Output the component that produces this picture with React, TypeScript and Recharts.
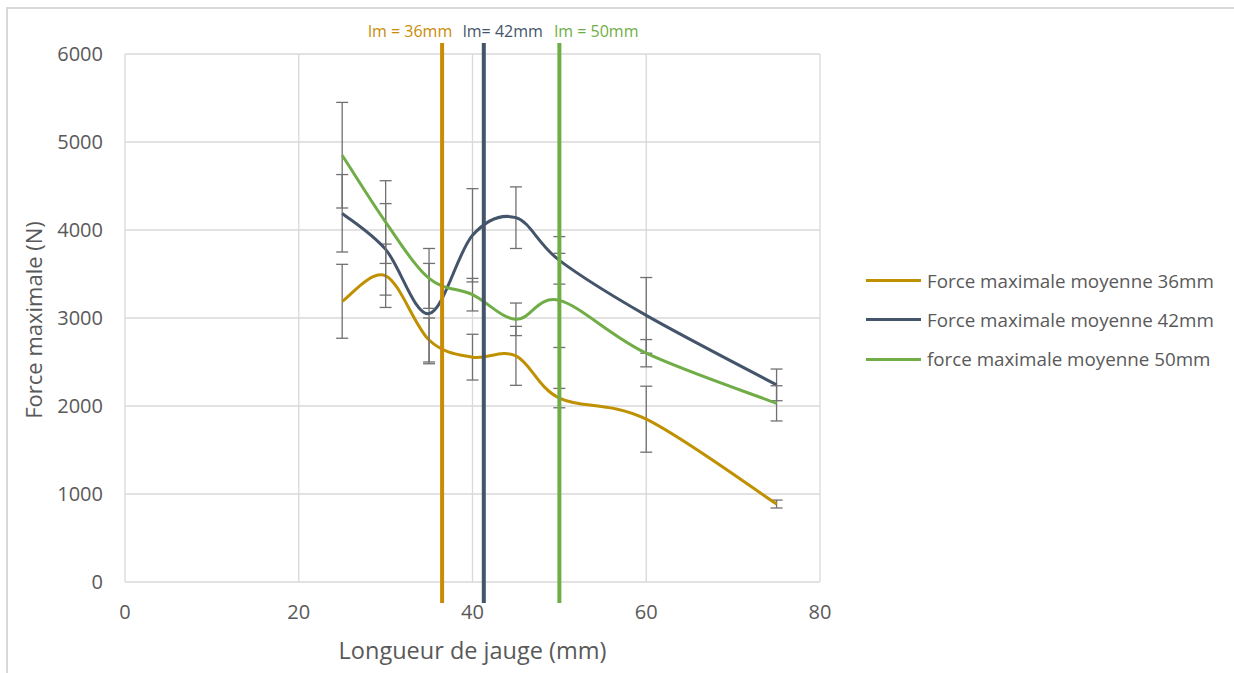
import React from 'react';
import {
  ComposedChart,
  Line,
  XAxis,
  YAxis,
  CartesianGrid,
  ErrorBar,
  ReferenceLine,
  Legend,
} from 'recharts';

// ---------- data ----------
const gaugeLengths = [25, 30, 35, 40, 45, 50, 60, 75];

const force36 = [3190, 3480, 2750, 2555, 2570, 2090, 1850, 886];
const err36 = [420, 360, 250, 260, 335, 110, 375, 45];

const force42 = [4190, 3780, 3050, 3940, 4140, 3655, 3030, 2240];
const err42 = [440, 520, 570, 530, 350, 270, 430, 180];

const force50 = [4850, 4090, 3450, 3265, 2985, 3200, 2600, 2030];
const err50 = [600, 470, 340, 185, 185, 535, 155, 200];

const seriesNames = [
  'Force maximale moyenne 36mm',
  'Force maximale moyenne 42mm',
  'force maximale moyenne 50mm',
];
const seriesColors = ['#BF9000', '#44546A', '#70AD47'];

const xTicks = [0, 20, 40, 60, 80];
const yTicks = [0, 1000, 2000, 3000, 4000, 5000, 6000];

const lmPositions = [36.5, 41.3, 50];
const lmLabels = ['lm = 36mm', 'lm= 42mm', 'lm = 50mm'];
const lmColors = ['#C98C04', '#44546A', '#70AD47'];
const lmLabelShift = [-32, 19, 37];
const lmExtent = [-240, 6125];

const data = gaugeLengths.map((x, i) => ({
  x,
  f36: force36[i],
  e36: err36[i],
  f42: force42[i],
  e42: err42[i],
  f50: force50[i],
  e50: err50[i],
}));

const FONT = '"Open Sans", sans-serif';
const TEXT = '#595959';
const GRID = '#D9D9D9';

// Excel-like smoothed line (Catmull-Rom style Bezier)
const excelSmooth = (context: any) => {
  let pts: number[][] = [];
  return {
    areaStart() {},
    areaEnd() {},
    lineStart() {
      pts = [];
    },
    point(x: number, y: number) {
      pts.push([+x, +y]);
    },
    lineEnd() {
      const n = pts.length;
      if (!n) return;
      context.moveTo(pts[0][0], pts[0][1]);
      for (let i = 0; i < n - 1; i++) {
        const p0 = pts[i > 0 ? i - 1 : 0];
        const p1 = pts[i];
        const p2 = pts[i + 1];
        const p3 = pts[i + 2 < n ? i + 2 : n - 1];
        context.bezierCurveTo(
          p1[0] + (p2[0] - p0[0]) / 6,
          p1[1] + (p2[1] - p0[1]) / 6,
          p2[0] - (p3[0] - p1[0]) / 6,
          p2[1] - (p3[1] - p1[1]) / 6,
          p2[0],
          p2[1]
        );
      }
    },
  };
};

const makeLmLabel = (text: string, color: string, shift: number) => (props: any) => {
  const vb = props.viewBox || {};
  const x = (vb.x || 0) + (vb.width || 0) / 2 + shift;
  const y = (vb.y || 0) - 6.5;
  return (
    <text x={x} y={y} textAnchor="middle" fill={color} fontSize={16} fontFamily={FONT}>
      {text}
    </text>
  );
};

const renderLegend = () => (
  <div style={{ fontFamily: FONT, fontSize: 18.8, color: TEXT }}>
    {seriesNames.map((n, i) => (
      <div key={n} style={{ display: 'flex', alignItems: 'center', height: 39.3, whiteSpace: 'nowrap' }}>
        <span
          style={{
            display: 'inline-block',
            width: 55,
            height: 3,
            background: seriesColors[i],
            marginRight: 6,
          }}
        />
        <span>{n}</span>
      </div>
    ))}
  </div>
);

const yTitle = (props: any) => {
  const vb = props.viewBox || {};
  const cx = (vb.x || 0) + 33;
  const cy = (vb.y || 0) + (vb.height || 0) / 2 + 2;
  return (
    <text
      x={cx}
      y={cy}
      transform={`rotate(-90 ${cx} ${cy})`}
      textAnchor="middle"
      dominantBaseline="central"
      fill={TEXT}
      fontSize={22}
      fontFamily={FONT}
    >
      Force maximale (N)
    </text>
  );
};

const xTitle = (props: any) => {
  const vb = props.viewBox || {};
  const cx = (vb.x || 0) + (vb.width || 0) / 2;
  const cy = (vb.y || 0) + 68;
  return (
    <text x={cx} y={cy} textAnchor="middle" dominantBaseline="central" fill={TEXT} fontSize={23.5} fontFamily={FONT}>
      Longueur de jauge (mm)
    </text>
  );
};

const seriesKeys = [
  ['f36', 'e36'],
  ['f42', 'e42'],
  ['f50', 'e50'],
];

export default function App() {
  return (
    <div style={{ position: 'absolute', left: 0, top: 0, width: 1234, height: 673, background: '#fff' }}>
      <div
        style={{
          position: 'absolute',
          left: 6,
          top: 7,
          width: 1228,
          height: 666,
          borderLeft: `2px solid ${GRID}`,
          borderTop: `2px solid ${GRID}`,
          boxSizing: 'border-box',
        }}
      />
      <div style={{ position: 'absolute', left: 0, top: 0 }}>
        <ComposedChart
          width={1234}
          height={673}
          data={data}
          margin={{ top: 54, right: 414, left: 0, bottom: 0 }}
        >
          <CartesianGrid stroke={GRID} strokeWidth={1.3} />
          <XAxis
            type="number"
            dataKey="x"
            domain={[0, 80]}
            ticks={xTicks}
            axisLine={false}
            tickLine={false}
            tickSize={0}
            tickMargin={23}
            height={91}
            tick={{ fill: TEXT, fontSize: 20, fontFamily: FONT }}
            label={xTitle}
          />
          <YAxis
            type="number"
            domain={[0, 6000]}
            ticks={yTicks}
            axisLine={false}
            tickLine={false}
            tickSize={0}
            tickMargin={22}
            width={125}
            tick={{ fill: TEXT, fontSize: 20, fontFamily: FONT }}
            label={yTitle}
          />
          {seriesKeys.map(([fk, ek], i) => (
            <Line
              key={fk}
              dataKey={fk}
              name={seriesNames[i]}
              type={excelSmooth as any}
              stroke={seriesColors[i]}
              strokeWidth={3}
              dot={false}
              activeDot={false}
              isAnimationActive={false}
            >
              <ErrorBar
                dataKey={ek}
                direction="y"
                width={6}
                stroke="#707070"
                strokeWidth={1.3}
                isAnimationActive={false}
              />
            </Line>
          ))}
          {lmPositions.map((p, i) => (
            <ReferenceLine
              key={lmLabels[i]}
              segment={[
                { x: p, y: lmExtent[0] },
                { x: p, y: lmExtent[1] },
              ]}
              ifOverflow="visible"
              stroke={lmColors[i]}
              strokeWidth={4}
              label={makeLmLabel(lmLabels[i], lmColors[i], lmLabelShift[i])}
            />
          ))}
          <Legend
            layout="vertical"
            align="center"
            verticalAlign="middle"
            content={renderLegend}
            wrapperStyle={{ left: 866, top: 261, width: 368, height: 'auto' }}
          />
        </ComposedChart>
      </div>
    </div>
  );
}
